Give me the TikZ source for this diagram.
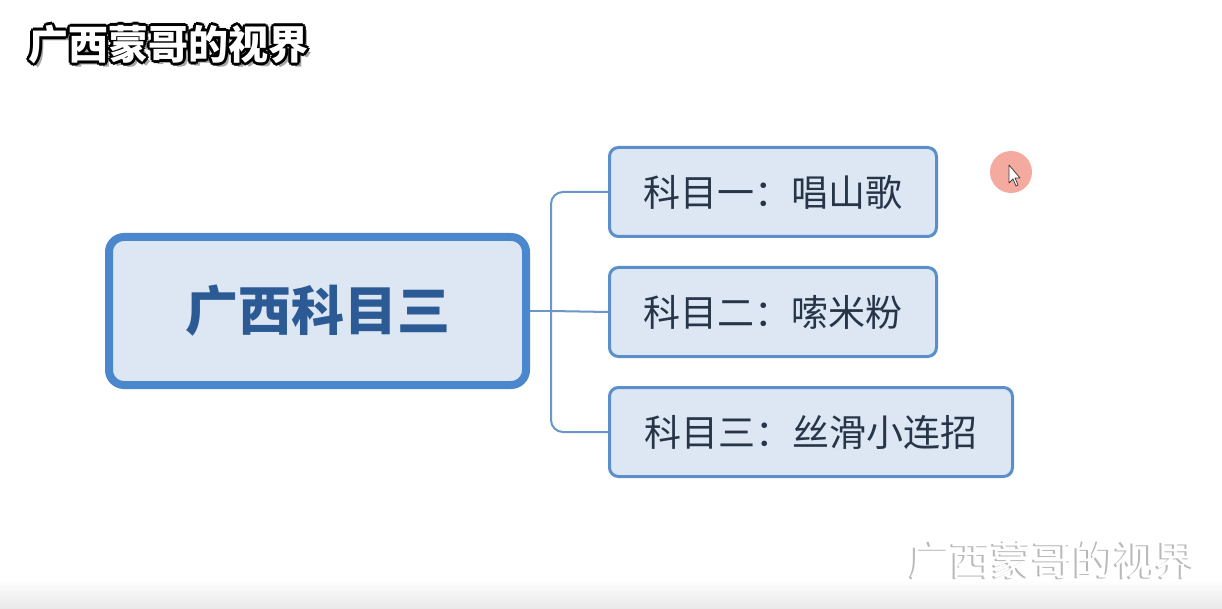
\documentclass[tikz,border=0pt]{standalone}
\usepackage{fontspec}
\newfontfamily\cjk{Noto Sans CJK SC}
\begin{document}
\begin{tikzpicture}[x=1pt,y=-1pt,
  mainbox/.style={draw=mainblue, line width=8pt, fill=boxfill, rounded corners=15pt,
    minimum width=417pt, minimum height=148pt, inner sep=0pt,
    text=maintext, font=\cjk\bfseries\fontsize{53}{60}\selectfont},
  subbox/.style={draw=subblue, line width=3pt, fill=boxfill, rounded corners=9pt,
    minimum height=89pt, inner sep=0pt,
    text=subtext, font=\cjk\fontsize{37}{44}\selectfont},
  conn/.style={draw=connblue, line width=2pt, rounded corners=12pt},
  wmtext/.style={font=\cjk\bfseries\fontsize{40}{46}\selectfont, inner sep=0pt},
  wm2text/.style={font=\cjk\fontsize{41}{46}\selectfont, inner sep=0pt}
]
\definecolor{mainblue}{HTML}{4A87CC}
\definecolor{subblue}{HTML}{5B8FCC}
\definecolor{boxfill}{HTML}{DDE7F3}
\definecolor{maintext}{HTML}{2B5A94}
\definecolor{subtext}{HTML}{263548}
\definecolor{connblue}{HTML}{6A96C8}
\definecolor{cursorpink}{HTML}{F5AAA0}

\useasboundingbox (0,0) rectangle (1222,609);
\fill[white] (0,0) rectangle (1222,609);
\shade[top color=white, bottom color=black!9] (0,580) rectangle (1222,609);

% nodes
\coordinate (j) at (551,311);
\node[mainbox] (c) at (317.5,311) {广西科目三};
\node[subbox, minimum width=327pt] (b1) at (773,192) {科目一：唱山歌};
\node[subbox, minimum width=327pt] (b2) at (773,312) {科目二：嗦米粉};
\node[subbox, minimum width=403pt] (b3) at (811,432) {科目三：丝滑小连招};

% connectors
\draw[conn] (c.east) -- (j);
\draw[conn] (j) -- (b2.west);
\draw[conn] (b1.west) -| (j) |- (b3.west);

% cursor highlight
\node[circle, fill=cursorpink, minimum size=42pt, inner sep=0pt] (cur) at (1011,172) {};
\draw[fill=white, draw=black!75, line width=0.8pt, line join=round]
  (1009,165) -- (1009,183) -- (1013,179) -- (1016,186) -- (1018,185) -- (1015,178) -- (1020,178) -- cycle;

% top-left watermark: grey shadow, black outline, white text
\node[wmtext, text=black!35] at (172,48) {广西蒙哥的视界};
\foreach \dx/\dy in {-2/-2,0/-2,2/-2,-2/0,2/0,-2/2,0/2,2/2,-3/0,3/0,0/-3,0/3}{
  \node[wmtext, text=black] at (168+\dx,44+\dy) {广西蒙哥的视界};
}
\node[wmtext, text=white] (wm) at (168,44) {广西蒙哥的视界};

% bottom-right watermark: white text with light grey edge
\node[wm2text, text=black!28] (wm2s) at (1051,561) {广西蒙哥的视界};
\node[wm2text, text=white] (wm2) at (1052.5,560) {广西蒙哥的视界};
\end{tikzpicture}
\end{document}
